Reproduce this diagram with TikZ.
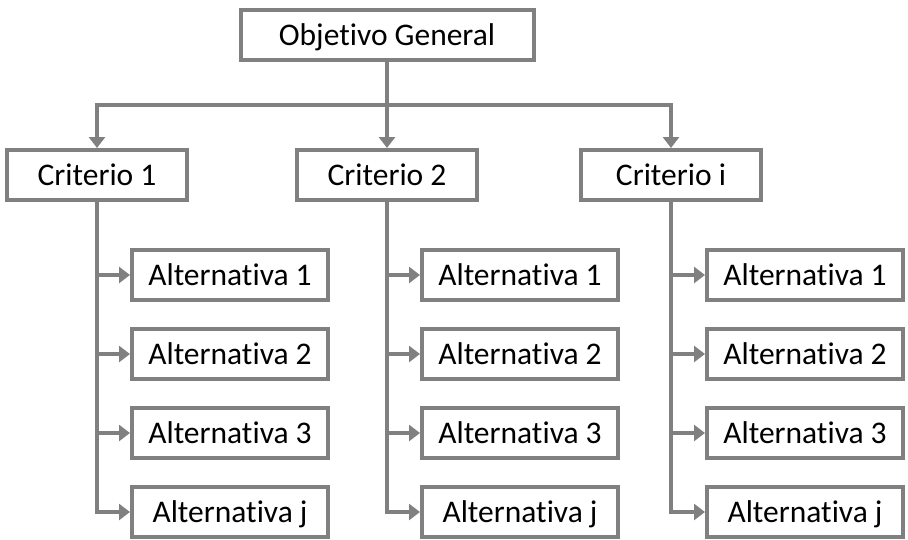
\documentclass[tikz,border=0pt]{standalone}
\usepackage{fontspec}
\setmainfont[Ligatures=NoCommon]{Carlito}
\usetikzlibrary{arrows.meta}
\definecolor{linegray}{RGB}{128,128,128}
\begin{document}
\begin{tikzpicture}[x=1pt,y=-1pt,
  box/.style={draw=linegray, line width=4pt, fill=white, minimum height=50pt,
    inner sep=0pt, text height=22pt, text depth=2pt,
    font=\fontsize{31.5}{36}\selectfont, text=black},
  critbox/.style={box, minimum width=180pt},
  altbox/.style={box, minimum width=196pt},
  link/.style={draw=linegray, line width=4pt},
  tip/.style={-{Triangle[width=16pt,length=11pt]}}
]
\useasboundingbox (0,0) rectangle (908,539);

% goal
\node[box, minimum width=293pt] (obj) at (387,35) {Objetivo General};

% criteria
\node[critbox] (c1) at (97,175) {Criterio 1};
\node[critbox] (c2) at (387,175) {Criterio 2};
\node[critbox] (c3) at (671,175) {Criterio i};

% alternatives under each criterion
\foreach \c/\x in {1/230, 2/520, 3/805}{
  \node[altbox] (a\c1) at (\x,275) {Alternativa 1};
  \node[altbox] (a\c2) at (\x,354) {Alternativa 2};
  \node[altbox] (a\c3) at (\x,433) {Alternativa 3};
  \node[altbox] (a\c4) at (\x,512) {Alternativa j};
}

% goal to criteria
\coordinate (hub) at (387,105);
\draw[link] (obj.south) -- (hub);
\draw[link,tip] (hub) -| (c1.north);
\draw[link,tip] (hub) -- (c2.north);
\draw[link,tip] (hub) -| (c3.north);

% criteria to alternatives
\foreach \c in {1,2,3}{
  \draw[link,tip] (c\c.south) |- (a\c4.west);
  \draw[link,tip] (c\c.south |- a\c1.west) -- (a\c1.west);
  \draw[link,tip] (c\c.south |- a\c2.west) -- (a\c2.west);
  \draw[link,tip] (c\c.south |- a\c3.west) -- (a\c3.west);
}
\end{tikzpicture}
\end{document}
